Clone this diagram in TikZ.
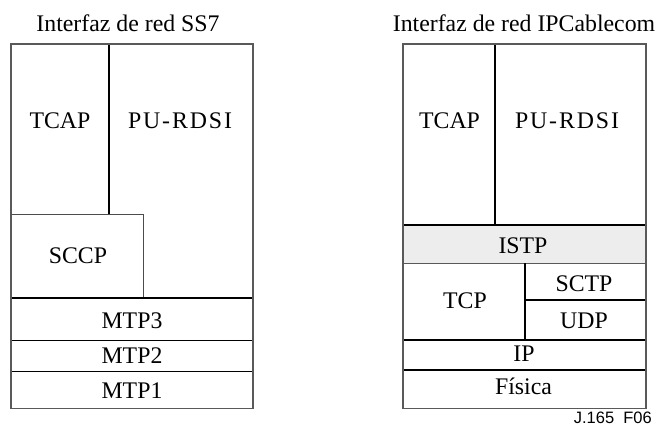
\documentclass[tikz,border=0pt]{standalone}
\usepackage{fontspec}
\setmainfont{Liberation Serif}
\newfontfamily\labelsans{Liberation Sans}
\begin{document}
\begin{tikzpicture}[x=1pt,y=-1pt,
  outer/.style={draw=black!65, line width=1.3pt},
  inner/.style={draw=black, line width=1.5pt},
  thinbox/.style={draw=black!70, line width=1pt},
  lbl/.style={anchor=base, inner sep=0pt, font=\fontsize{23.8}{28}\selectfont},
  spaced/.style={lbl, font=\fontsize{23.8}{28}\selectfont\addfontfeature{LetterSpace=8}}
]
\useasboundingbox (0,0) rectangle (656,427);

% ---------- left stack (SS7)
\node[lbl] (t1) at (128,31.5) {Interfaz de red SS7};
\draw[inner] (109,44) -- (109,215);
\draw[thinbox] (11,215) -- (143,215) -- (143,298);
\draw[inner] (11,298) -- (253,298);
\draw[inner] (11,340.7) -- (253,340.7);
\draw[inner] (11,371.3) -- (253,371.3);
\draw[outer] (11,44) rectangle (253,408.7);
\node[lbl] (tcap1) at (60,128.3) {TCAP};
\node[spaced] (pu1) at (180,128.3) {PU-RDSI};
\node[lbl] (sccp) at (78,263.3) {SCCP};
\node[lbl] (mtp3) at (132,328.3) {MTP3};
\node[lbl] (mtp2) at (132,364) {MTP2};
\node[lbl] (mtp1) at (132,399) {MTP1};

% ---------- right stack (IPCablecom)
\node[lbl] (t2) at (524,31.5) {Interfaz de red IPCablecom};
\fill[black!7] (403,225) rectangle (646,263.3);
\draw[inner] (495,44) -- (495,225);
\draw[inner] (403,225) -- (646,225);
\draw[draw=black!65, line width=1.3pt] (403,263.3) -- (646,263.3);
\draw[inner] (525,263.3) -- (525,340);
\draw[inner] (525,300) -- (646,300);
\draw[inner] (403,340) -- (646,340);
\draw[inner] (403,370) -- (646,370);
\draw[outer] (403,44) rectangle (646,408.3);
\node[lbl] (tcap2) at (449.5,128.3) {TCAP};
\node[spaced] (pu2) at (567,128.3) {PU-RDSI};
\node[lbl] (istp) at (523,253.3) {ISTP};
\node[lbl] (sctp) at (584,291.7) {SCTP};
\node[lbl] (udp) at (584,328.3) {UDP};
\node[lbl] (tcp) at (465,308.3) {TCP};
\node[lbl] (ip) at (524,361.7) {IP};
\node[lbl] (fisica) at (523.5,395) {Física};

\node[anchor=base east, inner sep=0pt, font=\labelsans\fontsize{16.5}{18}\selectfont] (fig) at (652,423.5) {J.165\ \ F06};
\end{tikzpicture}
\end{document}
